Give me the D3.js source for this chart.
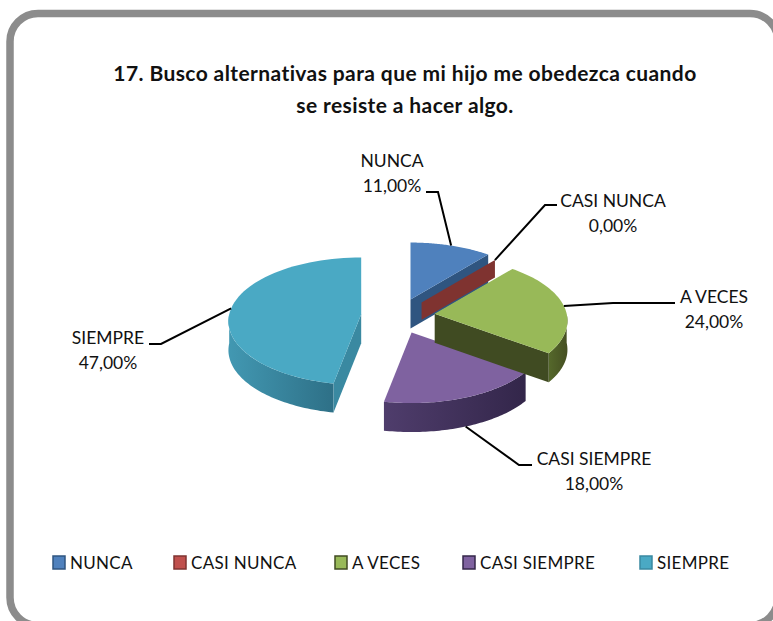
<!DOCTYPE html>
<html>
<head>
<meta charset="utf-8">
<script src="https://cdn.jsdelivr.net/npm/d3@7"></script>
<style>
    body { margin: 0; background: #fff; }
    svg { display: block; }
    text { font-family: Lato, "Open Sans", sans-serif; fill: #111; }
</style>
</head>
<body>
<svg width="773" height="621"></svg>
<script>
"use strict"

const titleLines = [
    "17. Busco alternativas para que mi hijo me obedezca cuando",
    "se resiste a hacer algo."
]
const categories = ["NUNCA", "CASI NUNCA", "A VECES", "CASI SIEMPRE", "SIEMPRE"]
const values = [11, 0, 24, 18, 47]

const topColors = ["#4f81bd", "#c0504d", "#98b958", "#7f62a0", "#4aa9c4"]
const cutColors = ["#2f5580", "#7f3330", "#404b22", "#35274a", "#3a89a1"]
const sideLight = ["#3a6090", "#8c3a38", "#55682b", "#4f3d6c", "#4298b2"]
const sideDark = ["#2f5580", "#7f3330", "#454f22", "#33264a", "#2e7087"]

// where each label sits and where its leader line bends
const labelSpots = [
    {x: 392, y: 167, elbow: [[426, 192], [438, 192]]},
    {x: 613, y: 207, elbow: [[557, 205], [545, 205]]},
    {x: 714, y: 303, elbow: [[675, 303], [613, 303]]},
    {x: 594, y: 465, elbow: [[532, 465], [519, 465]]},
    {x: 108, y: 344, elbow: [[149, 344], [161, 344]]}
]
const legendX = [53, 174, 335, 463, 640]

let svg = d3.select("svg"),
    cx = 398,
    cy = 316,
    rx = 132,
    ry = 63,
    depth = 29,
    perspective = 0.108,
    explode = 0.28,
    emptyRadius = 0.94,
    emptyDepth = 0.6

let color = d3.scaleOrdinal().domain(categories).range(topColors)

/**
* @param {Object} d a slice from d3.pie
* @return {Object} the tip of the slice on screen, after it is pulled out
*/
function tip(d) {
    let mid = (d.startAngle + d.endAngle) / 2
    return {
	x: cx + explode * rx * Math.sin(mid),
	y: cy - explode * ry * Math.cos(mid)
    }
}

/**
* @param {Object} d a slice from d3.pie
* @param {number} a angle on the disc, clockwise from the top
* @param {number} r radius, 1 being the rim
* @param {number} drop how far below the top face the point is
* @return {Array<number>} the screen point
*/
function project(d, a, r, drop) {
    let t = tip(d),
	X = Math.sin(a) * r,
	Y = Math.cos(a) * r,
	w = 1 / (1 + perspective * Y)
    return [t.x + rx * X * w, t.y - ry * Y * w + drop]
}

function arcPoints(d, from, to, r, drop) {
    let n = 60
    return d3.range(n + 1).map(i => project(d, from + (to - from) * i / n, r, drop))
}

let line = d3.line()
let pieData = d3.pie().sort(null).value(v => v)(values)

let defs = svg.append("defs")
sideLight.forEach((c, i) => {
    let grad = defs.append("linearGradient").attr("id", "side" + i)
    grad.append("stop").attr("offset", "0%").attr("stop-color", c)
    grad.append("stop").attr("offset", "100%").attr("stop-color", sideDark[i])
})

// frame, it runs off the right and bottom of the picture
svg.append("rect")
    .attr("x", 10)
    .attr("y", 13.5)
    .attr("width", 768)
    .attr("height", 612)
    .attr("rx", 28)
    .attr("fill", "#fff")
    .attr("stroke", "#8c8c8c")
    .attr("stroke-width", 7.5)

svg.append("g").selectAll("text")
    .data(titleLines)
    .enter().append("text")
    .attr("x", 405)
    .attr("y", (d, i) => 81 + i * 32)
    .attr("text-anchor", "middle")
    .attr("font-size", 21)
    .attr("letter-spacing", 0.4)
    .attr("font-weight", 700)
    .text(d => d)

// back to front
let drawOrder = [4, 0, 1, 3, 2]
let pie = svg.append("g")

drawOrder.forEach(i => {
    let d = pieData[i],
	empty = values[i] == 0,
	r = empty ? emptyRadius : 1,
	drop = empty ? depth * emptyDepth : depth,
	g = pie.append("g").attr("class", "slice")

    let from = Math.max(d.startAngle, Math.PI / 2),
	to = Math.min(d.endAngle, 3 * Math.PI / 2)
    if (to > from) {
	let rim = arcPoints(d, from, to, 1, 0).concat(arcPoints(d, from, to, 1, drop).reverse())
	g.append("path")
	    .attr("d", line(rim) + "Z")
	    .attr("fill", "url(#side" + i + ")")
    }

    // only the cut walls that face the viewer get drawn
    let t = tip(d),
	cuts = []
    if (Math.sin(d.startAngle) < -1e-6) cuts.push(d.startAngle)
    if (Math.sin(d.endAngle) > 1e-6) cuts.push(d.endAngle)
    cuts.forEach(a => {
	let o = project(d, a, r, 0)
	g.append("path")
	    .attr("d", line([[t.x, t.y], o, [o[0], o[1] + drop], [t.x, t.y + drop]]) + "Z")
	    .attr("fill", cutColors[i])
    })

    if (!empty)
	g.append("path")
	    .attr("d", line([[t.x, t.y]].concat(arcPoints(d, d.startAngle, d.endAngle, 1, 0))) + "Z")
	    .attr("fill", color(categories[i]))
})

// leader lines start at the middle of each slice's rim
let leaders = svg.append("g")
pieData.forEach((d, i) => {
    let mid = (d.startAngle + d.endAngle) / 2,
	r = values[i] == 0 ? emptyRadius : 1,
	start = project(d, mid, r, Math.cos(mid) < 0 ? depth : 0)
    leaders.append("path")
	.attr("d", line(labelSpots[i].elbow.concat([start])))
	.attr("fill", "none")
	.attr("stroke", "#000")
	.attr("stroke-width", 2)
})

let labels = svg.append("g").selectAll("g")
    .data(categories)
    .enter().append("g")
labels.append("text")
    .attr("x", (d, i) => labelSpots[i].x)
    .attr("y", (d, i) => labelSpots[i].y)
    .attr("text-anchor", "middle")
    .attr("font-size", 17.5)
    .text(d => d)
labels.append("text")
    .attr("x", (d, i) => labelSpots[i].x)
    .attr("y", (d, i) => labelSpots[i].y + 24.5)
    .attr("text-anchor", "middle")
    .attr("font-size", 17.5)
    .text((d, i) => values[i].toFixed(2).replace(".", ",") + "%")

let legend = svg.append("g").selectAll("g")
    .data(categories)
    .enter().append("g")
    .attr("transform", (d, i) => "translate(" + legendX[i] + ",556)")
legend.append("rect")
    .attr("width", 12)
    .attr("height", 13)
    .attr("fill", d => color(d))
    .attr("stroke", (d, i) => cutColors[i])
    .attr("stroke-width", 1.5)
legend.append("text")
    .attr("x", 17)
    .attr("y", 13)
    .attr("font-size", 17)
    .attr("letter-spacing", 0.3)
    .text(d => d)
</script>
</body>
</html>
